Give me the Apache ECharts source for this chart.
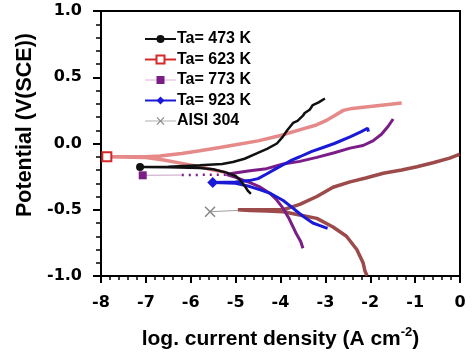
<!DOCTYPE html>
<html>
<head>
<meta charset="utf-8">
<script src="https://cdn.jsdelivr.net/npm/echarts@6/dist/echarts.min.js"></script>
<style>html,body{margin:0;padding:0;background:#fff;}#chart{width:474px;height:356px;}</style>
</head>
<body>
<div id="chart"></div>
<script>
// ---- data (log current density, potential) ----
const xTicks = [-8, -7, -6, -5, -4, -3, -2, -1, 0];
const yTicks = [-1.0, -0.5, 0.0, 0.5, 1.0];
const seriesNames = ['Ta= 473 K', 'Ta= 623 K', 'Ta= 773 K', 'Ta= 923 K', 'AISI 304'];

// Ta = 473 K (cathodic tip -> corrosion -> anodic)
const t473X = [-4.66,-4.72,-4.8,-4.9,-5.0,-5.2,-5.5,-5.8,-6.5,-7.13,-6.5,-5.8,-5.3,-5.06,-4.8,-4.53,-4.3,-4.08,-3.95,-3.85,-3.72,-3.62,-3.5,-3.46,-3.35,-3.28,-3.15,-3.01];
const t473Y = [-0.38,-0.36,-0.32,-0.275,-0.245,-0.22,-0.195,-0.185,-0.179,-0.177,-0.175,-0.165,-0.155,-0.14,-0.115,-0.075,-0.04,0.0,0.05,0.1,0.155,0.17,0.21,0.23,0.255,0.29,0.31,0.34];
// Ta = 623 K
const t623X = [-5.2,-5.5,-5.8,-6.2,-6.6,-7.0,-7.87,-7.0,-6.69,-6.2,-5.8,-5.35,-5.0,-4.5,-4.0,-3.5,-3.2,-3.0,-2.8,-2.6,-2.4,-2.0,-1.6,-1.3];
const t623Y = [-0.22,-0.2,-0.175,-0.15,-0.125,-0.105,-0.10,-0.10,-0.095,-0.075,-0.055,-0.03,-0.01,0.02,0.06,0.11,0.14,0.17,0.21,0.25,0.265,0.28,0.295,0.305];
// Ta = 773 K
const t773LeadX = [-7.07,-6.2];
const t773LeadY = [-0.24,-0.238];
const t773DotX = [-6.2,-5.1];
const t773DotY = [-0.238,-0.235];
const t773X = [-3.5,-3.55,-3.65,-3.72,-3.82,-3.94,-4.1,-4.24,-4.45,-4.68,-5.0,-5.2,-5.06,-4.68,-4.31,-3.94,-3.57,-3.19,-2.8,-2.45,-2.16,-1.94,-1.75,-1.6,-1.49];
const t773Y = [-0.79,-0.74,-0.68,-0.63,-0.56,-0.49,-0.42,-0.375,-0.33,-0.295,-0.255,-0.235,-0.225,-0.205,-0.19,-0.155,-0.135,-0.105,-0.07,-0.035,-0.015,0.02,0.07,0.13,0.185];
// Ta = 923 K
const t923X = [-2.95,-3.0,-3.12,-3.28,-3.45,-3.57,-3.75,-3.94,-4.1,-4.24,-4.45,-4.68,-5.0,-5.51,-5.0,-4.7,-4.5,-4.31,-4.1,-3.94,-3.75,-3.57,-3.3,-3.05,-2.8,-2.45,-2.2,-2.06,-2.04];
const t923Y = [-0.64,-0.635,-0.62,-0.6,-0.56,-0.53,-0.48,-0.43,-0.4,-0.375,-0.35,-0.325,-0.3,-0.295,-0.29,-0.28,-0.265,-0.23,-0.19,-0.16,-0.125,-0.1,-0.06,-0.03,0.0,0.05,0.09,0.115,0.09];
// AISI 304
const aisiLeadX = [-5.57,-4.95];
const aisiLeadY = [-0.515,-0.505];
const aisiX = [-2.07,-2.12,-2.16,-2.3,-2.53,-2.83,-3.19,-3.57,-3.94,-4.3,-4.68,-4.95,-4.68,-4.3,-3.94,-3.57,-3.19,-2.83,-2.45,-2.1,-1.71,-1.3,-0.96,-0.6,-0.23,0.0];
const aisiY = [-1.0,-0.96,-0.9,-0.8,-0.7,-0.63,-0.565,-0.54,-0.515,-0.51,-0.505,-0.5,-0.5,-0.5,-0.5,-0.46,-0.4,-0.33,-0.29,-0.26,-0.225,-0.2,-0.175,-0.145,-0.11,-0.08];

const FONT = 'Liberation Sans, Arial, sans-serif';
const TICKFONT = 'DejaVu Sans, sans-serif';
function pts(xs, ys){ return xs.map((x,i)=>[x, ys[i]]); }
function minIdx(xs){ let m=0; xs.forEach((x,i)=>{ if(x<xs[m]) m=i; }); return m; }
const crossPath = 'path://M0,1L1,0L5,4L9,0L10,1L6,5L10,9L9,10L5,6L1,10L0,9L4,5Z';

function curve(name, xs, ys, color, width, symbol, size, markerOn, opacity){
  const mi = minIdx(xs);
  return {
    name: name, type: 'line', data: pts(xs, ys), showSymbol: true,
    symbol: symbol,
    symbolSize: function(v, p){ return (markerOn && p.dataIndex === mi) ? size : 0; },
    itemStyle: {color: color},
    lineStyle: {color: color, width: width, opacity: opacity == null ? 1 : opacity},
    silent: true, animation: false, z: 2
  };
}
function lead(xs, ys, lineColor, markColor, symbol, size, width, type){
  return {
    type: 'line', data: pts(xs, ys), showSymbol: true, symbol: symbol,
    symbolSize: function(v, p){ return p.dataIndex === 0 ? size : 0; },
    itemStyle: {color: markColor},
    lineStyle: {color: lineColor, width: width || 1, type: type || 'solid'},
    silent: true, animation: false, z: 3
  };
}

const series = [
  curve('AISI 304', aisiX, aisiY, '#8b2a2a', 3.5, crossPath, 11, false, 0.85),
  lead(aisiLeadX, aisiLeadY, '#a0a0a0', '#888888', crossPath, 11),
  curve('Ta= 623 K', t623X, t623Y, '#d43a3a', 3.5, 'emptyRect', 9, true, 0.6),
  curve('Ta= 773 K', t773X, t773Y, '#7b1d87', 3, 'rect', 8, false),
  lead(t773LeadX, t773LeadY, '#c8a2c8', '#7b1d87', 'rect', 8),
  lead(t773DotX, t773DotY, '#7b1d87', '#7b1d87', 'none', 0, 2.5, [2, 5]),
  curve('Ta= 923 K', t923X, t923Y, '#1a1ad6', 3, 'diamond', 11, true),
  curve('Ta= 473 K', t473X, t473Y, '#111111', 2.5, 'circle', 8, true)
];
series[2].itemStyle = {color: '#d42a2a', borderColor: '#d42a2a', borderWidth: 1.5};

const chart = echarts.init(document.getElementById('chart'), null, {renderer: 'canvas'});
chart.setOption({
  backgroundColor: '#fff',
  animation: false,
  grid: {left: 101, right: 14, top: 11, bottom: 80, show: true, borderColor: '#000', borderWidth: 2, backgroundColor: 'transparent'},
  legend: {
    orient: 'vertical', left: 144, top: 31, padding: 0, itemWidth: 31, itemHeight: 10, itemGap: 4.5,
    textStyle: {fontFamily: FONT, fontSize: 16, lineHeight: 14, fontWeight: 'bold', color: '#000', padding: [0,0,0,-4]},
    data: [
      {name: 'Ta= 473 K', lineStyle: {width: 2, color: '#111', opacity: 1}},
      {name: 'Ta= 623 K', lineStyle: {width: 2, color: '#d42a2a', opacity: 1}},
      {name: 'Ta= 773 K', lineStyle: {width: 1, color: '#d8b4d8', opacity: 1}},
      {name: 'Ta= 923 K', lineStyle: {width: 2, color: '#1a1ad6', opacity: 1}},
      {name: 'AISI 304', lineStyle: {width: 1, color: '#b0b0b0', opacity: 1}, itemStyle: {color: '#888'}}
    ]
  },
  xAxis: {
    type: 'value', min: xTicks[0], max: xTicks[xTicks.length-1], interval: 1,
    axisLine: {show: true, onZero: false, lineStyle: {color: '#000', width: 2}},
    axisTick: {show: true, inside: false, length: 7, lineStyle: {color: '#000', width: 2}},
    minorTick: {show: true, splitNumber: 5, length: 4, lineStyle: {color: '#000', width: 1.5}},
    splitLine: {show: false},
    axisLabel: {fontFamily: TICKFONT, fontSize: 16, fontWeight: 'bold', color: '#000', margin: 19},
    name: '{a|log. current density (A cm}{s|-2}{a|)}',
    nameLocation: 'middle', nameGap: 50,
    nameTextStyle: {
      rich: {
        a: {fontFamily: FONT, fontSize: 21, fontWeight: 'bold', color: '#000', verticalAlign: 'bottom', lineHeight: 24},
        s: {fontFamily: FONT, fontSize: 13, fontWeight: 'bold', color: '#000', verticalAlign: 'top', lineHeight: 24}
      }
    }
  },
  yAxis: {
    type: 'value', min: yTicks[0], max: yTicks[yTicks.length-1], interval: 0.5,
    axisLine: {show: true, onZero: false, lineStyle: {color: '#000', width: 2}},
    axisTick: {show: true, inside: false, length: 8, lineStyle: {color: '#000', width: 2}},
    minorTick: {show: true, splitNumber: 5, length: 5, lineStyle: {color: '#000', width: 1.5}},
    splitLine: {show: false},
    axisLabel: {fontFamily: TICKFONT, fontSize: 16, fontWeight: 'bold', color: '#000', margin: 19,
      formatter: v => v.toFixed(1)},
    name: 'Potential (V(SCE))', nameLocation: 'middle', nameGap: 60,
    nameTextStyle: {fontFamily: FONT, fontSize: 21.5, fontWeight: 'bold', color: '#000', padding: [0,0,0,37]}
  },
  series: series
});
</script>
</body>
</html>
